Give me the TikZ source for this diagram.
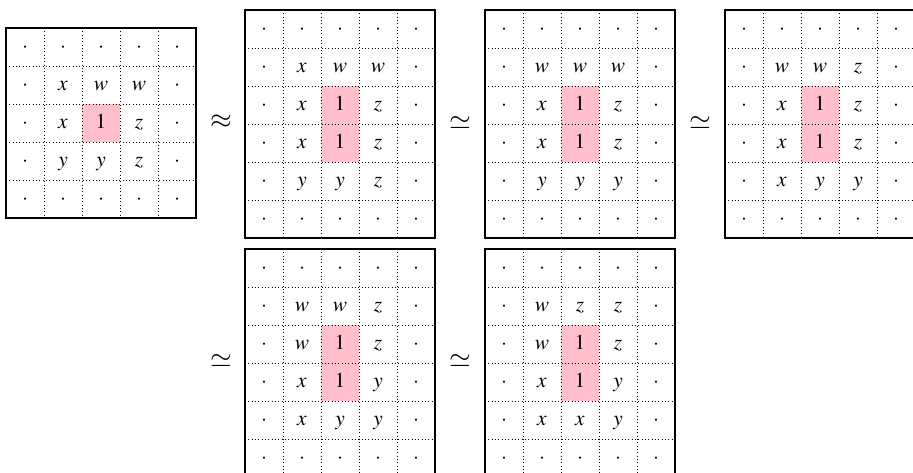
\documentclass[tikz,border=0pt]{standalone}
\usepackage{mathptmx}
\definecolor{cellpink}{HTML}{FFC0CB}

\begin{document}
\begin{tikzpicture}[
    x=0.75pt, y=-0.75pt,
    frame/.style={line width=1.3pt, black},
    gridline/.style={dotted, line width=0.5pt, black},
    lbl/.style={font=\fontsize{16}{19}\selectfont, inner sep=0pt,
        text height=9pt, text depth=1.5pt},
    rel/.style={font=\fontsize{21}{25}\selectfont, inner sep=0pt,
        text height=11.5pt, text depth=1pt},
]

\useasboundingbox (0, 0) rectangle (913, 472);
\clip (0, 0) rectangle (913, 472);

% --- Grids: index/left/top/rows/pink rows/inner cells ---
\foreach \g/\ox/\oy/\nr/\np/\cells in {
    1/6/28/5/1/{x/w/w, x/1/z, y/y/z},
    2/245/10/6/2/{x/w/w, x/1/z, x/1/z, y/y/z},
    3/485/10/6/2/{w/w/w, x/1/z, x/1/z, y/y/y},
    4/725/10/6/2/{w/w/z, x/1/z, x/1/z, x/y/y},
    5/245/249/6/2/{w/w/z, w/1/z, x/1/y, x/y/y},
    6/485/249/6/2/{w/z/z, w/1/z, x/1/y, x/x/y}} {
    % highlighted cells
    \fill[cellpink] (\ox+76, \oy+76) rectangle (\ox+114, \oy+76+38*\np);

    % dotted cell lines
    \foreach \k in {1,...,4}
        \draw[gridline] (\ox+38*\k, \oy) -- (\ox+38*\k, \oy+38*\nr);
    \pgfmathtruncatemacro{\nl}{\nr-1}
    \foreach \k in {1,...,\nl}
        \draw[gridline] (\ox, \oy+38*\k) -- (\ox+190, \oy+38*\k);

    % outer frame
    \draw[frame] (\ox, \oy) rectangle (\ox+190, \oy+38*\nr);

    % dots on top and bottom rows
    \foreach \c in {0,...,4} {
        \node[lbl] (g\g-0-\c) at (\ox+19+38*\c, \oy+19) {$\cdot$};
        \node[lbl] (g\g-\nl-\c) at (\ox+19+38*\c, \oy+38*\nr-19) {$\cdot$};
    }

    % inner rows
    \foreach \p/\q/\s [count=\r] in \cells {
        \node[lbl] (g\g-\r-0) at (\ox+19, \oy+19+38*\r) {$\cdot$};
        \node[lbl] (g\g-\r-1) at (\ox+57, \oy+19+38*\r) {$\p$};
        \node[lbl] (g\g-\r-2) at (\ox+95, \oy+19+38*\r) {$\q$};
        \node[lbl] (g\g-\r-3) at (\ox+133, \oy+19+38*\r) {$\s$};
        \node[lbl] (g\g-\r-4) at (\ox+171, \oy+19+38*\r) {$\cdot$};
    }
}

% --- Relations between grids ---
\node[rel] (rel1) at (221, 121) {$\approx$};
\node[rel] (rel2) at (460, 122) {$\simeq$};
\node[rel] (rel3) at (700, 122) {$\simeq$};
\node[rel] (rel4) at (221, 360) {$\simeq$};
\node[rel] (rel5) at (460, 360) {$\simeq$};

\end{tikzpicture}
\end{document}
